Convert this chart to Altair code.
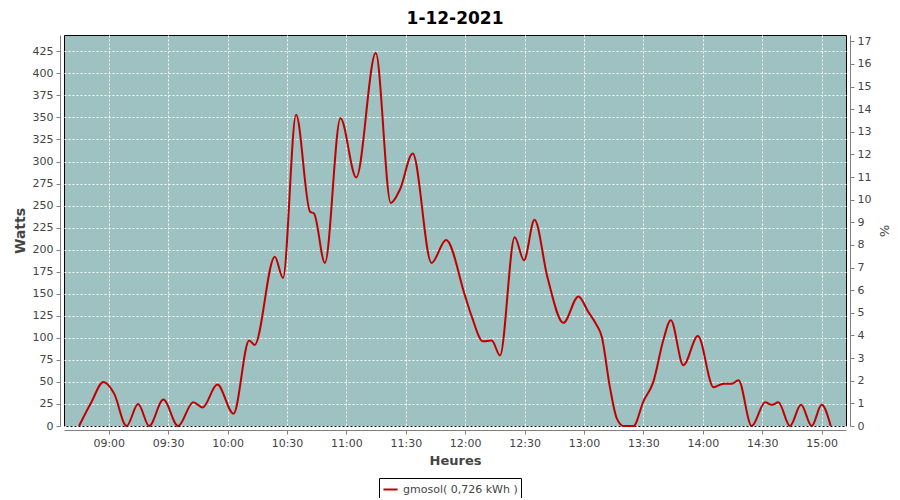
import altair as alt
import pandas as pd

# ---- data ----
times = ["08:45:00", "08:51:00", "08:57:20", "09:02:40", "09:09:00", "09:14:50", "09:20:25",
         "09:27:35", "09:35:00", "09:42:40", "09:47:20", "09:54:50", "10:03:00", "10:10:55",
         "10:13:40", "10:23:50", "10:28:00", "10:34:35", "10:41:40", "10:43:40", "10:49:10",
         "10:57:00", "11:05:00", "11:14:50", "11:22:25", "11:27:00", "11:33:30", "11:43:00",
         "11:50:20", "12:00:00", "12:03:20", "12:09:00", "12:13:25", "12:17:35", "12:25:00",
         "12:29:40", "12:35:00", "12:41:30", "12:49:35", "12:57:10", "13:02:00", "13:06:00",
         "13:09:00", "13:13:00", "13:16:30", "13:20:00", "13:25:00", "13:30:00", "13:35:00",
         "13:40:00", "13:43:50", "13:50:10", "13:57:30", "14:05:25", "14:10:25", "14:14:35",
         "14:18:00", "14:24:40", "14:31:30", "14:34:50", "14:38:10", "14:44:00", "14:49:35",
         "14:55:00", "15:00:00", "15:04:35"]
watts = [0, 26, 50, 37, 0, 25, 0,
         30, 0, 27, 21, 47, 14, 97,
         92, 192, 168, 353, 243, 241, 185,
         349, 282, 423, 253, 268, 309, 185,
         211, 147, 124, 96, 97, 80, 214,
         188, 234, 169, 117, 147, 130, 116,
         101, 45, 9, 0, 0, 28, 50,
         97, 120, 69, 102, 44, 48, 48,
         52, 0, 27, 24, 27, 0, 24,
         0, 24, 0]
xtick_labels = ["09:00", "09:30", "10:00", "10:30", "11:00", "11:30", "12:00",
                "12:30", "13:00", "13:30", "14:00", "14:30", "15:00"]
watt_ticks = list(range(0, 426, 25))
pct_ticks = list(range(0, 18))
series_label = "gmosol( 0,726 kWh )"
title_text = "1-12-2021"


def to_min(t):
    h, m, s = (int(v) for v in t.split(":"))
    return (h - 9) * 60 + m + s / 60.0


df = pd.DataFrame({"t": [to_min(t) for t in times], "w": watts, "series": series_label})
tick_min = [to_min(t + ":00") for t in xtick_labels]
pct_df = pd.DataFrame({"p": pct_ticks})

FONT = "DejaVu Sans"
label_expr = "[" + ",".join("'%s'" % s for s in xtick_labels) + "][round(datum.value/30)]"

x_enc = alt.X(
    "t:Q",
    scale=alt.Scale(domain=[-22.6, 372.3], nice=False, zero=False),
    axis=alt.Axis(
        values=tick_min, labelExpr=label_expr, title="Heures",
        grid=True, gridColor="white", gridDash=[2, 2], gridOpacity=1, gridWidth=1,
        domainColor="#808080", tickColor="#808080", tickSize=4, offset=4,
        labelFont=FONT, labelFontSize=11, labelColor="#444444", labelPadding=3,
        titleFont=FONT, titleFontSize=13, titleFontWeight="bold", titleColor="#444444",
        titlePadding=6,
    ),
)

line = alt.Chart(df).mark_line(interpolate="monotone", strokeWidth=2).encode(
    x=x_enc,
    y=alt.Y(
        "w:Q",
        scale=alt.Scale(domain=[0, 443.5], nice=False, zero=True),
        axis=alt.Axis(
            values=watt_ticks, title="Watts", orient="left",
            grid=True, gridColor="white", gridDash=[2, 2], gridOpacity=1, gridWidth=1,
            domainColor="#808080", tickColor="#808080", tickSize=4, offset=4,
            labelFont=FONT, labelFontSize=11, labelColor="#444444", labelPadding=3,
            titleFont=FONT, titleFontSize=14, titleFontWeight="bold", titleColor="#444444",
            titlePadding=5,
        ),
    ),
    color=alt.Color(
        "series:N",
        scale=alt.Scale(domain=[series_label], range=["#C00000"]),
        legend=alt.Legend(
            title=None, orient="none", legendX=315, legendY=443,
            strokeColor="black", padding=3, symbolType="stroke",
            symbolStrokeWidth=2, symbolSize=200, labelFont=FONT, labelFontSize=11,
            labelColor="#444444", labelOffset=4,
        ),
    ),
)

right = alt.Chart(pct_df).mark_point(opacity=0).encode(
    x=alt.value(0),
    y=alt.Y(
        "p:Q",
        scale=alt.Scale(domain=[0, 17.28], nice=False, zero=True),
        axis=alt.Axis(
            values=pct_ticks, title="%", orient="right", grid=False,
            domainColor="#808080", tickColor="#808080", tickSize=4, offset=4,
            labelFont=FONT, labelFontSize=11, labelColor="#444444", labelPadding=3,
            titleFont=FONT, titleFontSize=13, titleFontWeight="normal", titleColor="#444444",
            titlePadding=6,
        ),
    ),
)

chart = (
    alt.layer(line, right)
    .resolve_scale(y="independent")
    .properties(
        width=782, height=391,
        title=alt.TitleParams(title_text, font=FONT, fontSize=17, fontWeight="bold",
                              color="black", anchor="middle", offset=7),
        autosize=alt.AutoSizeParams(type="none"),
        padding={"left": 56, "top": 27, "right": 46, "bottom": 72},
        background="white",
    )
    .configure_view(fill="#9EC1C1", stroke="black", strokeWidth=1)
)

chart.save("out.html", embed_options={"renderer": "svg", "actions": False})
